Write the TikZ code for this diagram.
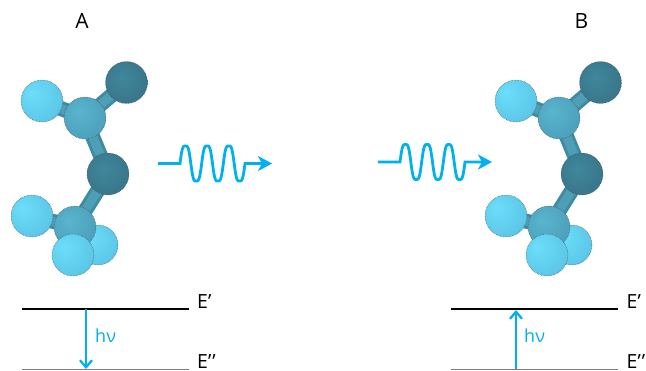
\documentclass[tikz,border=0pt]{standalone}
\usepackage{fontspec}
\setmainfont{Open Sans}
\usetikzlibrary{arrows.meta,positioning,backgrounds}
\definecolor{WaveBlue}{HTML}{00B0F0}
\definecolor{LevelGray}{HTML}{7F7F7F}
\definecolor{BondEdge}{HTML}{3F8CA2}
\definecolor{BondCore}{HTML}{4E9FB6}
\pgfdeclareradialshading{lightatom}{\pgfpoint{-12bp}{10bp}}{%
  rgb(0bp)=(0.42,0.87,0.98);
  rgb(28bp)=(0.37,0.79,0.92);
  rgb(50bp)=(0.30,0.68,0.80);
  rgb(70bp)=(0.23,0.55,0.66)}
\pgfdeclareradialshading{midatom}{\pgfpoint{-8bp}{8bp}}{%
  rgb(0bp)=(0.35,0.71,0.81);
  rgb(30bp)=(0.30,0.63,0.74);
  rgb(50bp)=(0.25,0.54,0.64);
  rgb(70bp)=(0.19,0.42,0.50)}
\pgfdeclareradialshading{darkatom}{\pgfpoint{-6bp}{6bp}}{%
  rgb(0bp)=(0.25,0.53,0.61);
  rgb(30bp)=(0.22,0.46,0.54);
  rgb(50bp)=(0.18,0.38,0.45);
  rgb(70bp)=(0.13,0.28,0.34)}
\tikzset{
  atom/.style={circle,draw=black!70,densely dotted,line width=0.5pt,
    minimum size=42pt,inner sep=0pt},
  bondouter/.style={BondEdge,line width=15pt},
  bondinner/.style={BondCore,line width=9pt},
  molecule/.pic={
    \node[atom,shading=darkatom] (t) at (126.5,82.5) {};
    \node[atom,shading=lightatom] (l) at (42,101) {};
    \node[atom,shading=midatom] (u) at (85,118) {};
    \node[atom,shading=darkatom] (m) at (108,174) {};
    \node[atom,shading=lightatom] (d) at (32,216) {};
    \node[atom,shading=lightatom,minimum size=40pt] (r) at (98,245) {};
    \node[atom,shading=midatom] (b) at (75,227) {};
    \node[atom,shading=lightatom] (f) at (73,255) {};
    \begin{scope}[on background layer]
      \foreach \from/\to in {u/t,u/l,u/m,m/b,b/d}{
        \draw[bondouter] (\from.center) -- (\to.center);
        \draw[bondinner] (\from.center) -- (\to.center);
      }
    \end{scope}
  },
  wave/.pic={
    \coordinate (start) at (0,0);
    \coordinate (stop) at (114,0);
    \draw[photon] (start) -- (22,0) -- plot[domain=0:65,samples=90,smooth]
      ({22+\x},{-17.5*(1.5*sin(\x/21.67*360)-0.5*sin(\x/21.67*360)^3)}) -- (stop);
  }
}
\begin{document}
\begin{tikzpicture}[
  x=1pt,y=-1pt,
  every node/.style={inner sep=0pt},
  big/.style={font=\fontsize{21}{23}\selectfont},
  level/.style={font=\fontsize{19.5}{22}\selectfont},
  energy/.style={font=\fontsize{18}{20}\selectfont,text=WaveBlue},
  photon/.style={-{Stealth[length=14pt,width=15pt,inset=4pt]},WaveBlue,line width=2.8pt},
  transition/.style={-{Straight Barb[length=7pt,width=12pt]},WaveBlue,line width=2.3pt},
  upper/.style={black,line width=2.2pt},
  lower/.style={LevelGray,line width=1pt}
]
\clip (0,0) rectangle (646,370);
\node[big] (labela) at (82,21) {A};
\node[big] (labelb) at (581.5,21) {B};
\pic (mola) at (0,0) {molecule};
\pic (molb) at (474,0) {molecule};
\pic (wavea) at (158,163.5) {wave};
\pic (waveb) at (378,162) {wave};
% energy levels, left
\coordinate (ua) at (22,309);
\coordinate (ub) at (189,309);
\coordinate (la) at (22,369);
\coordinate (lb) at (189,369);
\draw[upper] (ua) -- (ub);
\draw[lower] (la) -- (lb);
\node[level,anchor=west] (ea) at (197,302) {E’};
\node[level,anchor=west] (eea) at (197,361.5) {E’\kern1pt’};
\coordinate (sa) at (86,309);
\coordinate (ta) at (86,369);
\draw[transition] (sa) -- (ta);
\node[energy,anchor=west] (hva) at (95,336) {hν};
% energy levels, right
\coordinate (uc) at (451,309);
\coordinate (ud) at (618,309);
\coordinate (lc) at (451,369);
\coordinate (ld) at (618,369);
\draw[upper] (uc) -- (ud);
\draw[lower] (lc) -- (ld);
\node[level,anchor=west] (eb) at (626.5,302) {E’};
\node[level,anchor=west] (eeb) at (626.5,361.5) {E’\kern1pt’};
\coordinate (sb) at (516,369);
\coordinate (tb) at (516,310);
\draw[transition] (sb) -- (tb);
\node[energy,anchor=west] (hvb) at (524,336) {hν};
\end{tikzpicture}
\end{document}
